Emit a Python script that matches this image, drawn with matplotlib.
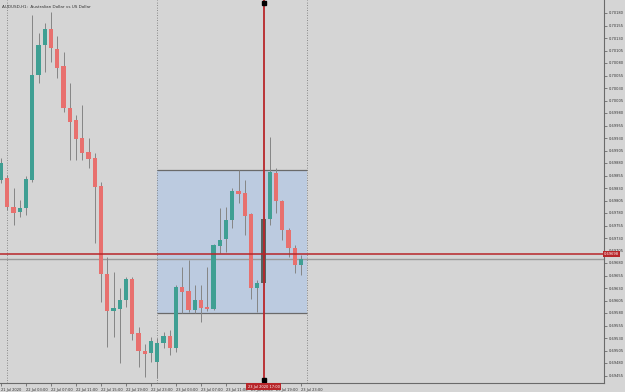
import numpy as np
import matplotlib.pyplot as plt
from matplotlib.patches import Rectangle

# AUDUSD H1 candles, index 0 = 21 Jul 23:00
opens = [0.69846, 0.69850, 0.69792, 0.69782, 0.69790, 0.69846, 0.70056, 0.70116, 0.70148, 0.70108,
         0.70074, 0.69990, 0.69966, 0.69930, 0.69902, 0.69890, 0.69834, 0.69658, 0.69584, 0.69588,
         0.69606, 0.69648, 0.69540, 0.69504, 0.69500, 0.69482, 0.69520, 0.69534, 0.69510, 0.69632,
         0.69624, 0.69586, 0.69606, 0.69592, 0.69588, 0.69714, 0.69728, 0.69766, 0.69824, 0.69820,
         0.69778, 0.69630, 0.69640, 0.69768, 0.69860, 0.69804, 0.69746, 0.69710, 0.69676]
highs = [0.69890, 0.69856, 0.69830, 0.69806, 0.69854, 0.70176, 0.70140, 0.70160, 0.70182, 0.70134,
         0.70102, 0.70040, 0.69976, 0.69996, 0.69930, 0.69900, 0.69842, 0.69692, 0.69662, 0.69630,
         0.69652, 0.69652, 0.69552, 0.69518, 0.69532, 0.69530, 0.69542, 0.69546, 0.69636, 0.69672,
         0.69686, 0.69636, 0.69636, 0.69672, 0.69718, 0.69790, 0.69792, 0.69830, 0.69866, 0.69846,
         0.69780, 0.69646, 0.69772, 0.69932, 0.69870, 0.69806, 0.69750, 0.69716, 0.69696]
lows = [0.69840, 0.69786, 0.69756, 0.69772, 0.69776, 0.69842, 0.70040, 0.70062, 0.70082, 0.70050,
        0.69982, 0.69886, 0.69886, 0.69886, 0.69870, 0.69720, 0.69602, 0.69512, 0.69532, 0.69480,
        0.69592, 0.69526, 0.69472, 0.69452, 0.69482, 0.69450, 0.69510, 0.69496, 0.69502, 0.69580,
        0.69582, 0.69580, 0.69562, 0.69584, 0.69586, 0.69700, 0.69702, 0.69750, 0.69800, 0.69736,
        0.69608, 0.69582, 0.69636, 0.69756, 0.69780, 0.69726, 0.69692, 0.69660, 0.69656]
closes = [0.69880, 0.69792, 0.69780, 0.69790, 0.69848, 0.70056, 0.70116, 0.70148, 0.70110, 0.70070,
          0.69990, 0.69962, 0.69928, 0.69900, 0.69888, 0.69832, 0.69658, 0.69584, 0.69590, 0.69606,
          0.69648, 0.69538, 0.69504, 0.69498, 0.69524, 0.69520, 0.69534, 0.69510, 0.69632, 0.69622,
          0.69586, 0.69606, 0.69590, 0.69588, 0.69716, 0.69726, 0.69766, 0.69824, 0.69818, 0.69774,
          0.69630, 0.69640, 0.69768, 0.69862, 0.69804, 0.69746, 0.69710, 0.69676, 0.69688]

time_labels = ['21 Jul 2020', '22 Jul 03:00', '22 Jul 07:00', '22 Jul 11:00', '22 Jul 15:00',
               '22 Jul 19:00', '22 Jul 23:00', '23 Jul 03:00', '23 Jul 07:00', '23 Jul 11:00',
               '23 Jul 15:00', '23 Jul 19:00', '23 Jul 23:00']
separators = [0.95, 24.95, 48.95]   # day separators
box_top, box_bottom = 0.69866, 0.69580
hline_price = 0.69698
cursor_bar = 42
cursor_label = '23 Jul 2020 17:00'

bg = '#d5d5d5'
up_col = '#3f9f93'
down_col = '#e8706e'
line_red = '#b8262a'
fs = 2.6

fig = plt.figure(figsize=(6.25, 3.92), dpi=100, facecolor=bg)
ax = fig.add_axes([0, 9 / 392, 604 / 625, 383 / 392], facecolor=bg)

o = np.array(opens)
c = np.array(closes)
h = np.array(highs)
l = np.array(lows)
x = np.arange(len(o))
up = c >= o

# selection box
ax.add_patch(Rectangle((separators[1], box_bottom), separators[2] - separators[1], box_top - box_bottom,
                       facecolor='#bccbe0', edgecolor='none', zorder=1))
ax.hlines([box_top, box_bottom], separators[1], separators[2], color='#6a6a6a', lw=0.9, zorder=2)

for s in separators:
    ax.axvline(s, color='#707070', lw=0.6, ls=(0, (1, 2)), zorder=1.5)

# candles
ax.vlines(x, l, h, color='#858585', lw=0.7, zorder=3)
body = np.maximum(np.abs(c - o), 0.000015)
cols = [up_col if u else down_col for u in up]
cols[cursor_bar] = '#55635f'
ax.bar(x, body, bottom=np.minimum(o, c), width=0.66, color=cols, zorder=4, linewidth=0)

# bid line and drawn lines
ax.axhline(closes[-1], color='#9a9a9a', lw=1.0, zorder=2.5)
ax.axhline(hline_price, color=line_red, lw=1.1, zorder=5)
ax.axvline(cursor_bar, color=line_red, lw=1.3, zorder=5)
ax.plot([cursor_bar, cursor_bar], [0.70200, 0.69446], 's', color='black', ms=2.5, zorder=6, clip_on=False)

ax.set_xlim(-0.16, 96.48)
ax.set_ylim(0.69440, 0.70206)

# axes styling
for side in ['top', 'left']:
    ax.spines[side].set_visible(False)
ax.spines['right'].set_color('#6a6a6a')
ax.spines['bottom'].set_color('#6a6a6a')
ax.spines['right'].set_linewidth(0.8)
ax.spines['bottom'].set_linewidth(0.8)

yt = np.round(0.70180 - 0.00025 * np.arange(30), 5)
yt = yt[yt > 0.69445]
ax.yaxis.tick_right()
ax.set_yticks(yt)
ax.set_yticklabels(['%.5f' % v for v in yt])
ax.tick_params(axis='y', length=2.5, width=0.5, color='#555555', labelsize=fs,
               labelcolor='#333333', pad=1)

xt = np.arange(0, 49, 4)
ax.set_xticks(xt)
ax.set_xticklabels(time_labels, ha='left')
ax.tick_params(axis='x', length=2, width=0.5, color='#555555', labelsize=fs,
               labelcolor='#333333', pad=1.5)

ax.text(0.004, 0.988, 'AUDUSD,H1:  Australian Dollar vs US Dollar', transform=ax.transAxes,
        fontsize=3.0, color='#333333', va='top', ha='left')

# price label on the right axis
ax.text(1.0, hline_price, '0.69698', transform=ax.get_yaxis_transform(), fontsize=fs,
        color='white', va='center', ha='left', zorder=7, clip_on=False,
        bbox=dict(boxstyle='square,pad=0.3', fc=line_red, ec='none'))
# time label for the cursor line
ax.text(cursor_bar, -0.004, cursor_label, transform=ax.get_xaxis_transform(), fontsize=fs,
        color='white', va='top', ha='center', zorder=7, clip_on=False,
        bbox=dict(boxstyle='square,pad=0.3', fc=line_red, ec='none'))

fig.savefig('out.png', dpi=100, facecolor=bg)
